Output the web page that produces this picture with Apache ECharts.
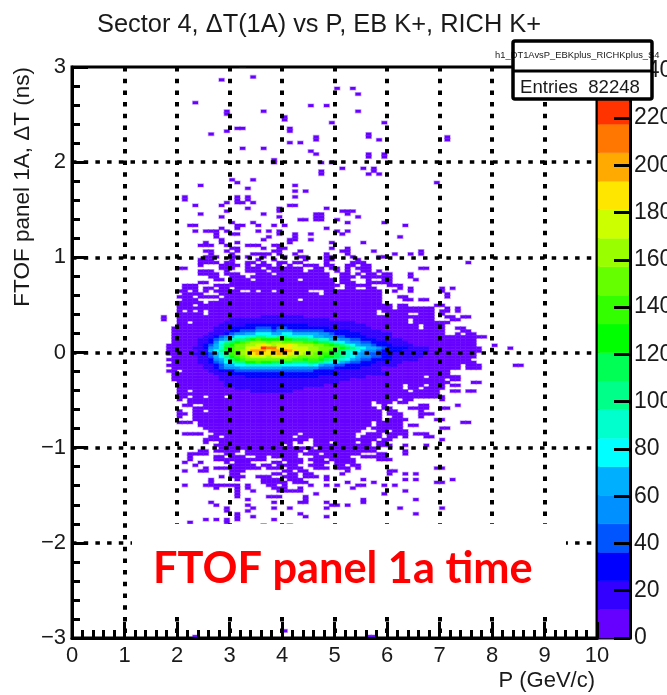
<!DOCTYPE html>
<html>
<head>
<meta charset="utf-8">
<script src="https://cdn.jsdelivr.net/npm/echarts@6/dist/echarts.min.js"></script>
<style>html,body{margin:0;padding:0;background:#fff}#c{width:667px;height:695px}</style>
</head>
<body>
<div id="c"></div>
<script>
// Histogram binning: column = floor(P / 0.1), row = floor((dT + 3) / 0.03)
const pBinWidth = 0.1;
const dtBinWidth = 0.03;
const dtOrigin = -3;
const lowCount = 3; // any occupied bin below the first colour step

// occupied low-count bins: [row, fromCol, toCol, fromCol, toCol, ...]
const farOutliers = [
  [200,32,32],[196,34,34],[195,28,28],[192,50,50,53,53],[190,54,54],[187,23,23],[186,45,45,48,48],
  [184,29,29,36,36,54,54],[183,29,29],[182,40,40],[181,40,40],[180,49,49,59,59],[178,31,32,41,41],
  [177,29,29,41,41],[176,26,26,56,56],[175,46,46,56,56,71,71],[174,46,46,58,58,71,71],[173,41,41,43,43],
  [171,32,32,36,36],[170,45,45],[169,46,46,56,56,59,59],[168,56,56,59,59],[167,38,38],[166,38,38,47,47,49,49],
  [164,51,51,55,55,57,57],[163,47,47,57,57],[162,47,47,56,56,58,58],
  [9,34,34],[2,40,40],[0,23,23,56,57]
];
const upperRows = [
  [160,30,30,34,34],[159,31,31,69,69],[158,24,24,42,42],[157,33,33],[156,42,42,44,44],
  [154,21,21,31,31,33,33,42,42],[153,21,21,31,31,33,33],[152,29,29,31,32,34,34],[151,23,23,28,28,41,42],
  [150,33,33,39,39,48,48],[149,29,29,39,39,51,53],[148,24,24,36,36,46,47,52,52],[147,28,28,39,39,46,47,54,54],
  [146,43,44,46,47,50,50],[145,30,30,34,34,52,52,59,59],[144,22,23,31,32,35,35,38,38,40,40,63,63],
  [143,28,28,31,31,48,48],[142,23,23,25,27,29,29,35,35,37,37,39,39,50,50,52,52],
  [141,27,27,30,31,39,39,42,42,45,45,51,51],[140,27,27,37,37,42,42,62,62],[139,28,28,36,36,41,42,45,45],
  [138,25,25,28,28,31,31,41,41,49,49,55,55],[137,24,26,29,29,33,35,38,39],[136,30,31,36,36,39,40,49,49,52,52],
  [135,25,26,29,29,31,31,38,39,43,43,51,52,57,57,66,66],[134,26,26,30,30,34,37,39,39,42,42,48,48,52,52,61,61,64,64,66,66],
  [133,25,27,30,31,33,33,36,36,40,40,43,44,48,49,53,53,58,59],[132,24,26,30,30,35,35,38,38,44,44,48,49,54,54],
  [131,24,27,29,30,33,34,36,36,39,40,42,43,48,48,53,55,75,75],[130,24,24,28,31,33,33,35,37,39,39,41,41,44,46,48,49,52,53,55,56],
  [129,20,21,28,30,33,35,37,43,46,47,49,50,52,52,54,56,66,67],[128,24,26,29,29,33,36,38,43,45,47,50,50,52,52,55,56,58,58],
  [127,24,27,29,31,35,37,39,48,51,52,54,54,56,57,59,60,64,64],[126,26,27,30,32,34,48,51,53,55,56,57,60,64,64],
  [125,27,28,30,33,35,42,44,49,51,52,56,56,59,60,65,65],[124,24,25,30,49,51,53,56,60],
  [123,21,23,27,27,28,50,52,56,60,62],[122,21,23,25,26,28,29,31,49,52,53,56,57,62,62,64,64,70,70,72,72],
  [121,20,21,23,23,25,25,27,31,34,34,36,37,39,44,48,55,56,58,61,61,64,64,70,70]
];
const middleRows = [
  [120,21,24,28,46,48,55,56,58,71,71],[119,20,22,24,27,29,58,62,63,71,71],[118,21,23,28,42,44,58,63,64,66,67],
  [117,20,24,26,58],[116,20,22,24,60,62,63,69,70],[115,20,60,62,68,71,71,73,73],
  [114,20,20,22,22,24,24,26,57,59,68,70,71,73,73],[113,20,24,26,57,60,63,66,68,70,70],
  [112,17,17,20,68,71,72,74,75],[111,17,17,20,63,65,68,72,73],[110,20,21,23,63,65,71],[109,20,65,67,70],
  [108,19,65,67,70,73,74],[107,19,70,74,75],[106,19,70,73,73,75,76],[105,19,75,76,78],[104,19,76],[103,19,76],
  [102,18,76,80,80],[101,18,77,83,83],[100,18,77],[99,18,76],[98,19,76],[97,18,75],[96,19,76],
  [95,18,73,75,77,84,85],[94,19,73,75,77],[93,18,19,21,71],[92,19,71],[91,19,66,68,71,72,73],[90,19,67,68,70,72,73],
  [89,20,69,70,71,76,77],[88,20,62,64,66,68,70,72,73],[87,20,62,64,65,67,70],[86,20,21,23,63,65,69,72,73,75,76]
];
const lowerRows = [
  [85,20,69],[84,20,21,23,24,26,28,30,70],[83,20,20,22,56,57,61,63,64,70,70],[82,22,56,58,60,62,63],
  [81,21,22,25,56,59,59,66,67,73,73],[80,23,56,57,57,59,60,64,65,66,67,70,71],[79,20,20,23,24,26,58,60,61,66,66],
  [78,20,21,23,58,60,62,66,68],[77,20,20,23,58,61,62,66,66],[76,23,58,60,63,69,70],[75,20,22,24,56,58,62,74,75],
  [74,24,56,58,62,64,65],[73,25,55,57,62,70,71],[72,26,54,58,59,61,63],[71,21,24,27,42,44,53,56,58,60,63,65,67],
  [70,26,27,29,41,43,53,55,58,60,61,63,63,67,68],[69,25,26,27,44,46,53,54,57,59,60,70,70],
  [68,25,25,28,41,43,43,46,48,50,53,55,56,58,59],[67,27,39,41,41,46,52,53,56,58,60,63,63,67,67],[66,28,45,47,57],
  [65,24,25,27,29,30,31,33,43,45,55,56,57,63,63],[64,22,25,29,30,33,42,44,46,48,54,58,59,63,63],
  [63,22,22,27,28,30,32,35,36,38,42,46,52,55,56,57,59],[62,22,22,27,29,30,36,40,41,42,43,45,47,49,53,58,60],
  [61,21,21,24,24,29,29,31,33,38,39,41,43,46,48,50,53],[60,23,23,30,32,33,34,36,37,39,42,45,47,50,51,53,54],
  [59,25,25,27,29,30,35,37,39,41,43,46,48,50,52,54,54,69,70],[58,21,21,24,25,30,32,40,41,43,44,52,52,60,61],
  [57,30,31,38,39,41,42,44,45,51,51,60,60,63,63,65,65],[56,28,28,30,32,35,37,40,42,44,46,48,48],
  [55,26,26,31,31,36,39,41,43,48,48,55,55,63,63,65,65,72,72],[54,26,26,36,40,42,44,52,52,57,57,69,70],
  [53,21,21,25,29,30,31,33,33,37,38,40,40,45,45,48,48,50,50,54,55,59,59,61,61],[52,27,27,31,31,33,33,38,40,43,43,53,53],
  [51,31,31,34,34,39,43,63,63],[50,31,31,46,46,59,59],[49,31,31,37,39,44,44],[48,33,33,44,44,55,55,65,65],
  [47,26,26,38,38,43,44,48,48,55,55],[46,27,27,33,33,49,50,52,52],[45,29,29,34,34,38,38,41,41,48,48,62,62,70,70],
  [44,29,29,33,33],[43,31,31,43,43,65,65],[42,31,31,34,34,44,44,48,48],[41,25,25,27,27,29,29,31,31,38,38],
  [40,22,22,29,29],[39,36,36,41,41]
];
// high-count core: [row, firstCol, count, count, ...]
const coreRows = [
  [112,36,13,14,13,15,14,13,13,14],
  [111,30,13,14,13,14,15,16,17,16,15,15,14,15,16,15,14,14,13,13,13],
  [110,28,12,13,15,16,17,19,20,22,24,22,20,19,20,21,22,20,21,20,19,18,17,16,15,14,13,13,12],
  [109,28,13,16,20,22,24,25,26,27,28,30,28,26,25,26,26,25,25,24,24,23,22,21,20,18,16,15,14,13,12],
  [108,27,13,16,20,26,28,30,34,36,38,40,38,36,38,38,36,34,34,33,31,30,28,26,24,22,20,18,17,15,14,13,12,12],
  [107,27,14,18,22,30,34,38,42,46,50,54,50,46,50,54,50,46,44,42,42,40,38,34,30,28,26,25,24,21,18,16,14,13,12],
  [106,26,14,18,24,32,42,50,56,62,68,74,82,78,70,72,78,78,72,70,68,66,62,60,50,42,36,30,28,26,25,24,21,18,16,14,13,12],
  [105,25,13,20,30,42,54,66,78,84,90,96,105,102,95,96,102,100,96,92,90,88,78,72,66,60,54,48,42,36,30,28,26,22,18,16,14,13,12],
  [104,24,14,18,26,38,54,72,90,100,105,115,125,133,127,121,121,127,127,121,118,115,115,108,103,96,90,72,66,60,54,42,40,30,28,26,24,18,16,14,13,12,12],
  [103,24,15,22,36,56,74,100,115,127,139,151,163,169,163,157,163,169,157,151,145,145,139,133,127,115,109,100,90,78,72,60,54,44,40,36,30,26,22,18,15,13,12],
  [102,24,18,28,48,66,90,115,127,145,151,163,169,181,187,175,169,175,181,187,175,169,163,163,157,151,133,127,115,103,90,78,66,60,54,42,36,30,28,24,20,16,14,12],
  [101,23,14,20,30,52,72,95,125,139,151,157,175,187,193,229,211,211,193,193,187,181,175,175,169,163,157,151,145,133,127,115,102,90,78,70,66,54,42,36,30,28,26,22,20,17,14,12],
  [100,24,14,20,62,75,100,118,135,150,160,172,205,205,199,187,199,205,211,205,187,178,172,163,160,150,145,130,118,105,95,85,75,66,60,52,42,36,30,28,26,24,20,18,16,14,12],
  [99,23,13,18,28,48,70,96,120,139,151,163,181,193,199,193,187,193,199,193,187,181,175,169,163,157,139,133,127,115,103,90,78,66,60,48,42,36,30,26,24,19,17,15,14,13,12],
  [98,24,15,24,42,62,84,108,127,139,151,163,175,181,175,169,175,181,175,169,163,157,151,151,145,133,127,121,115,103,90,78,66,60,54,42,38,30,27,23,20,17,15,14,13,12],
  [97,24,14,20,34,52,72,92,115,127,139,151,157,157,151,151,157,157,151,145,139,133,127,133,133,121,115,108,103,90,78,66,54,48,42,36,30,28,26,24,18,15,14,13,12],
  [96,24,13,18,28,42,58,76,90,100,108,121,127,133,127,121,115,118,115,110,104,102,103,110,112,100,90,84,78,66,54,48,42,33,28,26,24,20,18,15,13,12],
  [95,25,15,24,36,48,66,72,78,84,90,90,90,90,90,90,90,84,84,80,78,84,90,78,66,60,54,48,42,36,30,28,26,25,24,20,18,15,13,12],
  [94,25,13,20,30,40,54,56,60,62,64,66,66,64,62,64,66,60,58,56,54,58,60,50,42,40,38,32,30,28,26,25,18,16,14,13,12],
  [93,25,12,16,24,33,33,36,38,40,42,44,46,44,42,44,46,42,42,40,42,44,42,36,30,28,26,24,24,20,18,17,16,15,14,13,12],
  [92,27,14,20,24,27,29,30,31,32,32,34,34,32,32,34,33,32,31,30,30,30,28,26,26,25,24,22,20,18,17,16,15,14,13,12],
  [91,27,12,16,19,21,23,24,25,26,27,28,28,27,26,27,28,27,26,26,25,25,24,22,20,18,18,16,15,14,13,12],
  [90,28,14,17,19,20,21,22,22,23,23,24,23,22,22,23,22,21,20,20,19,18,17,16,15,14,13,12],
  [89,28,12,13,15,16,17,18,19,20,21,20,19,18,19,20,19,18,17,17,16,15,14,14,13,12,12],
  [88,29,13,15,15,16,17,17,18,18,17,16,15,16,17,16,15,14,14,13,13,12],
  [87,31,13,15,16,17,18,19,18,16,17,18,16,14,13],
  [86,33,12,13,14,14,13,13,13,14,13]
];

// colour scale, bottom to top
const zMax = 241.6;
const paletteColors = ['#6600ff','#3300ff','#0000ff','#0055ff','#0090ff','#00b0ff','#00ffff','#00ffcc','#00ff88','#00ff55',
  '#00ff00','#33ff00','#66ff00','#99ff00','#ccff00','#ffe600','#ffaa00','#ff7700','#ff3300','#ff0000'];
const zTickValues = [0,20,40,60,80,100,120,140,160,180,200,220,240];

const pTicks = { min: 0, max: 10, step: 1 };
const dtTicks = { min: -3, max: 3, step: 1 };
const chartTitle = 'Sector 4, \u0394T(1A) vs P, EB K+, RICH K+';
const xAxisTitle = 'P (GeV/c)';
const yAxisTitle = 'FTOF panel 1A, \u0394T (ns)';
const histName = 'h1_DT1AvsP_EBKplus_RICHKplus_S4';
const statsLine = 'Entries  82248';
const annotation = 'FTOF panel 1a time';

const bins = new Map();
[farOutliers, upperRows, middleRows, lowerRows].forEach(function (group) {
  group.forEach(function (row) {
    for (let i = 1; i < row.length; i += 2) {
      for (let c = row[i]; c <= row[i + 1]; c++) bins.set(row[0] + ':' + c, [c, row[0], lowCount]);
    }
  });
});
coreRows.forEach(function (row) {
  for (let i = 2; i < row.length; i++) {
    const c = row[1] + i - 2;
    bins.delete(row[0] + ':' + c);
    bins.set(row[0] + ':' + c, [c, row[0], row[i]]);
  }
});
const heatData = Array.from(bins.values()).map(function (b) {
  return [b[0] * pBinWidth, dtOrigin + b[1] * dtBinWidth, b[2]];
});
const bandStep = zMax / paletteColors.length;
const colorOf = function (z) {
  return paletteColors[Math.min(paletteColors.length - 1, Math.floor(z / bandStep))];
};
const barData = paletteColors.map(function (col, i) { return [i * bandStep, (i + 1) * bandStep, i]; });

const txt = '#1a1a1a';
const font = '"Liberation Sans", Arial, sans-serif';
const option = {
  animation: false,
  backgroundColor: '#fff',
  title: { text: chartTitle, left: 92, top: 7, textStyle: { fontFamily: font, fontWeight: 'normal', fontSize: 25.4, color: txt } },
  grid: [
    { left: 72, top: 67, width: 525, height: 571, outerBoundsMode: 'none', show: true, borderColor: '#000', borderWidth: 3, backgroundColor: 'transparent' },
    { left: 598, top: 67, width: 32, height: 571, outerBoundsMode: 'none', show: true, borderColor: '#000', borderWidth: 3, backgroundColor: 'transparent' }
  ],
  xAxis: [
    { type: 'value', gridIndex: 0, min: pTicks.min, max: pTicks.max, interval: pTicks.step, z: 5,
      name: xAxisTitle, nameLocation: 'end', nameGap: -2, nameMoveOverlap: false,
      nameTextStyle: { fontFamily: font, fontSize: 22, color: txt, align: 'right', verticalAlign: 'top', padding: [32, 0, 0, 0] },
      axisLine: { show: true, onZero: false, lineStyle: { color: '#000', width: 3 } },
      axisTick: { show: true, inside: true, length: 16, lineStyle: { color: '#000', width: 3 } },
      minorTick: { show: true, splitNumber: 5, length: 8, lineStyle: { color: '#000', width: 3 } },
      axisLabel: { fontFamily: font, fontSize: 22, color: txt, margin: 7 },
      splitLine: { show: true, showMinLine: false, showMaxLine: false, lineStyle: { color: '#000', width: 4, type: [4.5, 7.2] } } },
    { type: 'value', gridIndex: 1, min: 0, max: 1, show: false }
  ],
  yAxis: [
    { type: 'value', gridIndex: 0, min: dtTicks.min, max: dtTicks.max, interval: dtTicks.step, z: 5,
      name: yAxisTitle, nameLocation: 'end', nameGap: 0, nameRotate: 90, nameMoveOverlap: false,
      nameTextStyle: { fontFamily: font, fontSize: 22.5, color: txt, align: 'right', verticalAlign: 'bottom', padding: [0, 0, 38, 0] },
      axisLine: { show: true, onZero: false, lineStyle: { color: '#000', width: 3 } },
      axisTick: { show: true, inside: true, length: 16, lineStyle: { color: '#000', width: 3 } },
      minorTick: { show: true, splitNumber: 5, length: 8, lineStyle: { color: '#000', width: 3 } },
      axisLabel: { fontFamily: font, fontSize: 22, color: txt, margin: 6,
        formatter: function (v) { return v < 0 ? '\u2212' + (-v) : String(v); } },
      splitLine: { show: true, showMinLine: false, showMaxLine: false, lineStyle: { color: '#000', width: 3.5, type: [4.5, 7.2] } } },
    { type: 'value', gridIndex: 1, position: 'right', min: 0, max: zMax, z: 5,
      axisLine: { show: true, onZero: false, lineStyle: { color: '#000', width: 3 } },
      axisTick: { show: true, inside: true, length: 16, customValues: zTickValues, lineStyle: { color: '#000', width: 3 } },
      axisLabel: { fontFamily: font, fontSize: 23, color: txt, margin: 4, customValues: zTickValues },
      splitLine: { show: false } }
  ],
  series: [
    { type: 'custom', xAxisIndex: 0, yAxisIndex: 0, coordinateSystem: 'cartesian2d', data: heatData, clip: true,
      silent: true, progressive: 0, animation: false,
      encode: { x: 0, y: 1 },
      renderItem: function (params, api) {
        const z = api.value(2);
        const tl = api.coord([api.value(0), api.value(1) + dtBinWidth]);
        const br = api.coord([api.value(0) + pBinWidth, api.value(1)]);
        const col = colorOf(z);
        const low = z < bandStep;
        return { type: 'rect', shape: { x: tl[0], y: tl[1], width: br[0] - tl[0], height: br[1] - tl[1] },
          style: { fill: col, stroke: low ? 'rgba(102,0,255,0.35)' : col, lineWidth: low ? 1.4 : 0.5 } };
      } },
    { type: 'custom', xAxisIndex: 1, yAxisIndex: 1, coordinateSystem: 'cartesian2d', data: barData,
      silent: true, progressive: 0, animation: false,
      encode: { y: [0, 1] },
      renderItem: function (params, api) {
        const top = api.coord([0, api.value(1)]);
        const bot = api.coord([1, api.value(0)]);
        return { type: 'rect', shape: { x: top[0], y: top[1], width: bot[0] - top[0], height: bot[1] - top[1] },
          style: { fill: paletteColors[api.value(2)], stroke: paletteColors[api.value(2)], lineWidth: 0.5 } };
      } }
  ],
  graphic: { elements: [
    { type: 'rect', silent: true, z: 50, shape: { x: 132, y: 524, width: 434, height: 89 }, style: { fill: '#fff' } },
    { type: 'text', silent: true, z: 51, x: 153, y: 548, style: { text: annotation, fill: '#ff0000',
        font: 'bold 43.3px Lato, "Open Sans", sans-serif' } },
    { type: 'rect', silent: true, z: 60, shape: { x: 513, y: 41, width: 139, height: 58 }, style: { fill: '#fff' } },
    { type: 'text', silent: true, z: 61, x: 495, y: 51, style: { text: histName, fill: txt, font: '9.4px "Liberation Sans", Arial, sans-serif' } },
    { type: 'rect', silent: true, z: 62, shape: { x: 513, y: 41, width: 139, height: 58, r: 2 }, style: { fill: 'none', stroke: '#000', lineWidth: 3.5 } },
    { type: 'line', silent: true, z: 62, shape: { x1: 513, y1: 71, x2: 652, y2: 71 }, style: { stroke: '#000', lineWidth: 3 } },
    { type: 'text', silent: true, z: 63, x: 520, y: 78, style: { text: statsLine, fill: txt, font: '18.6px "Liberation Sans", Arial, sans-serif' } }
  ] }
};
echarts.init(document.getElementById('c'), null, { renderer: 'canvas' }).setOption(option);
</script>
</body>
</html>
